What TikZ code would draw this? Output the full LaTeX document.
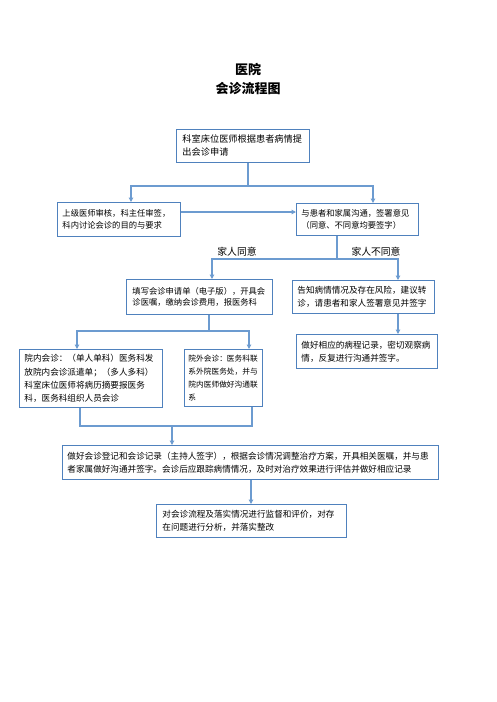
\documentclass[tikz,border=0pt]{standalone}
\usepackage{fontspec}
\usepackage{tikz}
\usetikzlibrary{arrows.meta}
\newfontfamily\cjk{Noto Sans CJK SC}
\definecolor{boxblue}{HTML}{4F81BD}
\definecolor{linkblue}{HTML}{6C9BD0}

\begin{document}
\begin{tikzpicture}[x=1pt, y=-1pt,
    box/.style={draw=boxblue, line width=0.9pt, anchor=north west, align=left,
                inner xsep=6pt, inner ysep=2pt, font=\cjk\fontsize{8.6}{13.3}\selectfont},
    bigtext/.style={font=\cjk\fontsize{9.2}{13}\selectfont},
    smalltext/.style={font=\cjk\fontsize{8.3}{11.5}\selectfont},
    link/.style={draw=linkblue, line width=1.1pt},
    tip/.style={-{Triangle[length=4.5pt,width=4.5pt]}}]
                  \useasboundingbox (0,0) rectangle (496,702);

                  % title
                  \node[font=\cjk\bfseries\fontsize{13}{19}\selectfont, align=center] (title) at (248,79) {医院\\会诊流程图};

                  \node[box, bigtext, minimum width=133pt, minimum height=33pt, text width=121pt] (apply) at (176,129) {科室床位医师根据患者病情提\\出会诊申请};
                  \node[box, smalltext, minimum width=123pt, minimum height=34pt, text width=113pt, inner xsep=5pt] (check) at (57,202) {上级医师审核，科主任审签，\\科内讨论会诊的目的与要求};
                  \node[box, smalltext, minimum width=122pt, minimum height=32pt, text width=112pt, inner xsep=5pt] (talk) at (296,203) {与患者和家属沟通，签署意见\\（同意、不同意均要签字）};

                  \node[box, smalltext, minimum width=146pt, minimum height=35pt, text width=134pt] (fill) at (126,279) {填写会诊申请单（电子版），开具会\\诊医嘱，缴纳会诊费用，报医务科};
                  \node[box, minimum width=142pt, minimum height=33pt, text width=132pt, inner xsep=5pt] (risk) at (292,280) {告知病情情况及存在风险，建议转\\诊，请患者和家人签署意见并签字};
                  \node[box, minimum width=141pt, minimum height=34pt, text width=131pt, inner xsep=5pt] (record) at (296,334) {做好相应的病程记录，密切观察病\\情，反复进行沟通并签字。};

                  \node[box, minimum width=143pt, minimum height=58pt, text width=133pt, inner xsep=5pt] (inner) at (19,349) {院内会诊：（单人单科）医务科发\\放院内会诊派遣单；（多人多科）\\科室床位医师将病历摘要报医务\\科，医务科组织人员会诊};
                  \node[box, font=\cjk\fontsize{7.7}{13.3}\selectfont, minimum width=78pt, minimum height=57pt, text width=70pt, inner xsep=4pt] (outer) at (184,349) {院外会诊：医务科联\\系外院医务处，并与\\院内医师做好沟通联\\系};

                  \node[box, minimum width=376pt, minimum height=34pt, text width=366pt, inner xsep=5pt] (register) at (62,445) {做好会诊登记和会诊记录（主持人签字），根据会诊情况调整治疗方案，开具相关医嘱，并与患\\者家属做好沟通并签字。会诊后应跟踪病情情况，及时对治疗效果进行评估并做好相应记录};
                  \node[box, minimum width=190pt, minimum height=33pt, text width=178pt] (review) at (156,504) {对会诊流程及落实情况进行监督和评价，对存\\在问题进行分析，并落实整改};

                  % branch labels
                  \node[font=\cjk\fontsize{9.8}{12}\selectfont] (yes) at (237,252) {家人同意};
                  \node[font=\cjk\fontsize{9.8}{12}\selectfont] (no) at (376,252) {家人不同意};

                  % junctions
                  \coordinate (split1) at (248,186);
                  \coordinate (split2) at (337,259);
                  \coordinate (split3) at (209,331);
                  \coordinate (merge) at (172,426);

                  \draw[link] (apply.south -| split1) -- (split1);
                  \draw[link, tip] (split1) -| (check.north -| 131,0);
                  \draw[link, tip] (split1) -| (talk.north -| 373,0);
                  \draw[link, tip] (check.east |- 0,212) -- (talk.west |- 0,212);

                  \draw[link] (talk.south -| split2) -- (split2);
                  \draw[link, tip] (split2) -| (fill.north -| 212,0);
                  \draw[link, tip] (split2) -| (risk.north -| 398,0);
                  \draw[link, tip] (risk.south -| 398,0) -- (record.north -| 398,0);

                  \draw[link] (fill.south -| split3) -- (split3);
                  \draw[link, tip] (split3) -| (inner.north -| 77,0);
                  \draw[link, tip] (split3) -| (outer.north -| 249,0);

                  \draw[link] (inner.south -| 80,0) |- (merge);
                  \draw[link] (outer.south -| 252,0) |- (merge);
                  \draw[link, tip] (merge) -- (register.north -| merge);
                  \draw[link, tip] (register.south -| 251,0) -- (review.north -| 251,0);
              \end{tikzpicture}
\end{document}
